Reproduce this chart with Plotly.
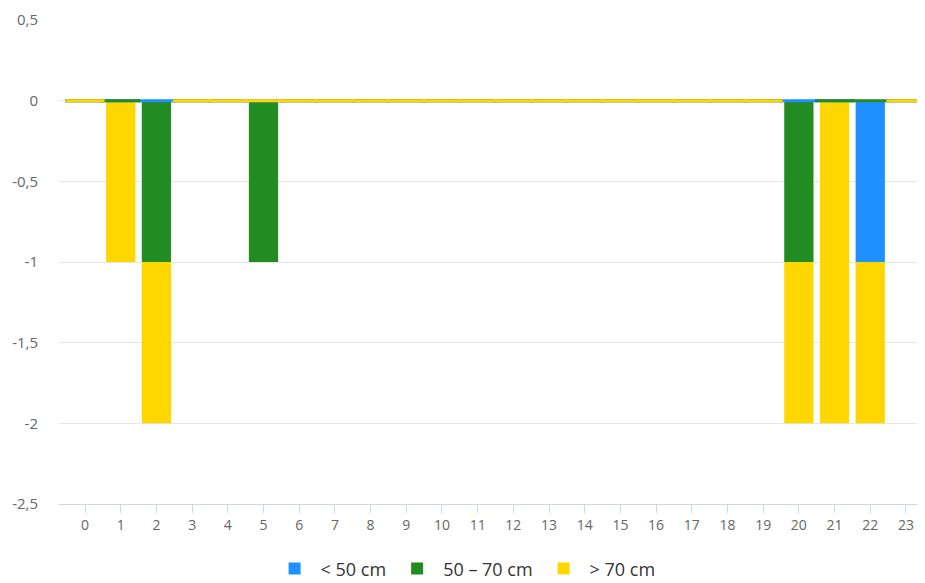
import plotly.graph_objects as go

hours = list(range(24))
series_names = ["< 50 cm", "50 – 70 cm", "> 70 cm"]
series_colors = ["#1E90FF", "#228B22", "#FFD700"]

lt50 = [0, 0, 0, 0, 0, 0, 0, 0, 0, 0, 0, 0, 0, 0, 0, 0, 0, 0, 0, 0, 0, 0, -1, 0]
mid = [0, 0, -1, 0, 0, -1, 0, 0, 0, 0, 0, 0, 0, 0, 0, 0, 0, 0, 0, 0, -1, 0, 0, 0]
gt70 = [0, -1, -1, 0, 0, 0, 0, 0, 0, 0, 0, 0, 0, 0, 0, 0, 0, 0, 0, 0, -1, -2, -1, 0]
series_values = [lt50, mid, gt70]

ytick_vals = [0.5, 0, -0.5, -1, -1.5, -2, -2.5]
ytick_text = ["0,5", "0", "-0,5", "-1", "-1,5", "-2", "-2,5"]

fig = go.Figure()
for name, color, vals in zip(series_names, series_colors, series_values):
    fig.add_trace(go.Bar(
        x=hours, y=vals, name=name, marker_color=color,
        marker_line_width=0, width=0.82,
    ))

# min point length markers for zero values (drawn after bars, in series order)
for name, color, vals in zip(series_names, series_colors, series_values):
    zx = [h for h, v in zip(hours, vals) if v == 0]
    zy = [v for v in vals if v == 0]
    fig.add_trace(go.Scatter(
        x=zx, y=zy, mode="markers", showlegend=False, hoverinfo="skip",
        marker=dict(symbol="line-ew", size=28, line=dict(width=3, color=color)),
    ))

fig.update_layout(
    width=917, height=575,
    margin=dict(l=51, r=3, t=12, b=79, autoexpand=False),
    barmode="relative",
    plot_bgcolor="white", paper_bgcolor="white",
    font=dict(family="Open Sans, sans-serif", color="#666666", size=14),
    legend=dict(orientation="h", x=0.47, xanchor="center", y=-0.134, yanchor="middle",
                font=dict(size=18, color="#333333"), traceorder="normal", itemwidth=42),
    showlegend=True,
)
fig.update_xaxes(
    range=[-0.73, 23.45], tickmode="array", tickvals=hours, ticktext=[str(h) for h in hours],
    showgrid=False, showline=True, linecolor="#ccd6eb", linewidth=1,
    ticks="outside", ticklen=8, tickcolor="#ccd6eb", tickfont=dict(size=14, color="#666666"),
    zeroline=False, fixedrange=True, automargin=False,
)
fig.update_yaxes(
    range=[-2.5, 0.5], tickmode="array", tickvals=ytick_vals, ticktext=ytick_text,
    showgrid=True, gridcolor="#e6e6e6", gridwidth=1, zeroline=False,
    showline=False, ticks="", ticklabelstandoff=20, tickfont=dict(size=15, color="#666666"),
    automargin=False,
)
fig.write_html("out.html")
